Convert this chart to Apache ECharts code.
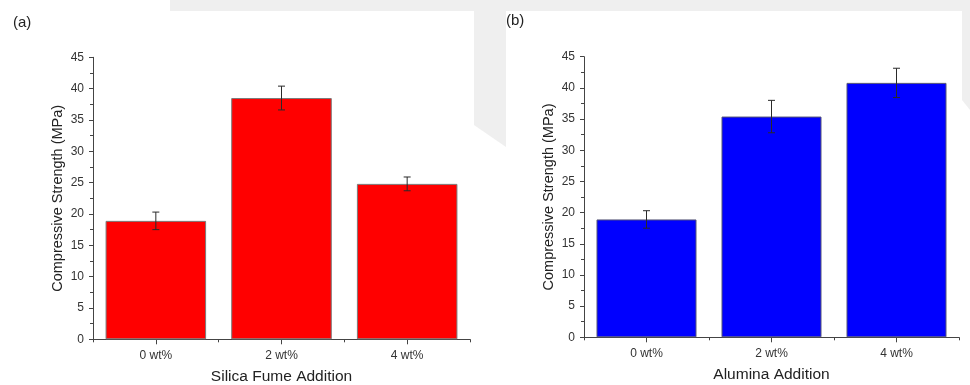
<!DOCTYPE html>
<html>
<head>
<meta charset="utf-8">
<script src="https://cdn.jsdelivr.net/npm/echarts@6/dist/echarts.min.js"></script>
<style>
html,body{margin:0;padding:0;background:#fff;}
#main{width:970px;height:385px;}
</style>
</head>
<body>
<div id="main"></div>
<script>
var categories = ['0 wt%', '2 wt%', '4 wt%'];
var silicaValues = [18.9, 38.5, 24.8];
var silicaErrors = [1.4, 1.9, 1.1];
var aluminaValues = [18.9, 35.4, 40.8];
var aluminaErrors = [1.4, 2.6, 2.35];
var yTicks = [0, 5, 10, 15, 20, 25, 30, 35, 40, 45];

var FONT = 'Liberation Sans, Arial, sans-serif';

function errSeries(gridIdx, values, errors) {
  var data = values.map(function (v, i) { return [i, v - errors[i], v + errors[i]]; });
  return {
    type: 'custom',
    xAxisIndex: gridIdx * 2,
    yAxisIndex: gridIdx,
    z: 10,
    silent: true,
    data: data,
    renderItem: function (params, api) {
      var lo = api.coord([api.value(0), api.value(1)]);
      var hi = api.coord([api.value(0), api.value(2)]);
      var hw = 3.5;
      var st = { stroke: '#2a2a2a', lineWidth: 1 };
      return {
        type: 'group',
        children: [
          { type: 'line', shape: { x1: lo[0], y1: lo[1], x2: hi[0], y2: hi[1] }, style: st },
          { type: 'line', shape: { x1: lo[0] - hw, y1: lo[1], x2: lo[0] + hw, y2: lo[1] }, style: st },
          { type: 'line', shape: { x1: hi[0] - hw, y1: hi[1], x2: hi[0] + hw, y2: hi[1] }, style: st }
        ]
      };
    }
  };
}

function xAxes(gridIdx, name) {
  return [{
    type: 'category', gridIndex: gridIdx, data: categories, position: 'bottom',
    name: name, nameLocation: 'middle', nameGap: 29,
    nameTextStyle: { fontFamily: FONT, fontSize: 15.5, color: '#222' },
    axisLine: { show: true, lineStyle: { color: '#444', width: 1 } },
    axisTick: { show: true, length: 3, lineStyle: { color: '#444' } },
    axisLabel: { fontFamily: FONT, fontSize: 12, color: '#333', margin: 10 },
    splitLine: { show: false }
  }, {
    type: 'category', gridIndex: gridIdx, data: categories, position: 'bottom',
    axisLine: { show: false },
    axisTick: { show: true, alignWithLabel: true, length: 5, lineStyle: { color: '#444' } },
    axisLabel: { show: false },
    splitLine: { show: false }
  }];
}

function yAxis(gridIdx) {
  return {
    type: 'value', gridIndex: gridIdx, min: yTicks[0], max: yTicks[yTicks.length - 1], interval: 5,
    name: 'Compressive Strength (MPa)', nameLocation: 'middle', nameGap: 28,
    nameTextStyle: { fontFamily: FONT, fontSize: 14.5, color: '#222' },
    axisLine: { show: true, lineStyle: { color: '#444', width: 1 } },
    axisTick: { show: true, length: 4, lineStyle: { color: '#444' } },
    minorTick: { show: true, splitNumber: 2, length: 3, lineStyle: { color: '#444' } },
    axisLabel: { fontFamily: FONT, fontSize: 12, color: '#333', margin: 9 },
    splitLine: { show: false }
  };
}

var xa = xAxes(0, 'Silica Fume Addition').concat(xAxes(1, 'Alumina Addition'));

var option = {
  backgroundColor: '#ffffff',
  animation: false,
  graphic: [
    { type: 'polygon', silent: true, z: -10, shape: { points: [[170, 0], [970, 0], [970, 11], [170, 11]] }, style: { fill: '#efefef' } },
    { type: 'polygon', silent: true, z: -10, shape: { points: [[474, 0], [506, 0], [506, 147], [474, 125]] }, style: { fill: '#efefef' } },
    { type: 'polygon', silent: true, z: -10, shape: { points: [[962, 0], [970, 0], [970, 110], [962, 100]] }, style: { fill: '#efefef' } },
    { type: 'text', left: 13, top: 15, style: { text: '(a)', font: '15px Liberation Sans, Arial, sans-serif', fill: '#222' } },
    { type: 'text', left: 506, top: 13, style: { text: '(b)', font: '15px Liberation Sans, Arial, sans-serif', fill: '#222' } }
  ],
  grid: [
    { left: 93, top: 57.3, width: 377, height: 282, outerBoundsMode: 'none', containLabel: false },
    { left: 584, top: 56.7, width: 375, height: 280.6, outerBoundsMode: 'none', containLabel: false }
  ],
  xAxis: xa,
  yAxis: [yAxis(0), yAxis(1)],
  series: [
    {
      type: 'bar', xAxisIndex: 0, yAxisIndex: 0, data: silicaValues, barCategoryGap: '20%',
      itemStyle: { color: '#ff0000', borderColor: '#7a7a7a', borderWidth: 1 }
    },
    errSeries(0, silicaValues, silicaErrors),
    {
      type: 'bar', xAxisIndex: 2, yAxisIndex: 1, data: aluminaValues, barCategoryGap: '20%',
      itemStyle: { color: '#0000ff', borderColor: '#555577', borderWidth: 1 }
    },
    errSeries(1, aluminaValues, aluminaErrors)
  ]
};

var chart = echarts.init(document.getElementById('main'), null, { renderer: 'canvas' });
chart.setOption(option);
</script>
</body>
</html>
